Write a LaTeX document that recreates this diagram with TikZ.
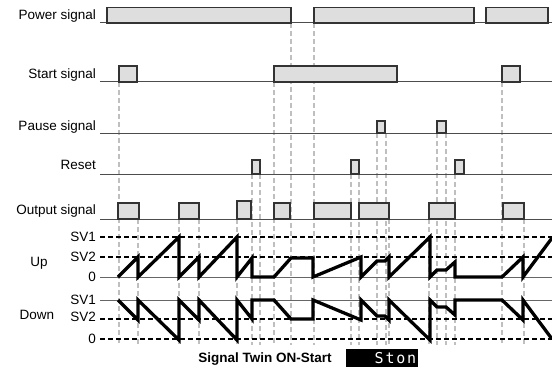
\documentclass[tikz,border=0pt]{standalone}
\usepackage{fontspec}
\setmainfont{Liberation Sans}
\newfontfamily\lcdfont[LetterSpace=12]{DejaVu Sans Mono}
\def\upwave{(118,277) -- (138,257) -- (138,277) -- (179,237) -- (179,277) -- (199,257) -- (199,277) -- (237,237) -- (237,277) -- (252,258) -- (252,277) -- (274,277) -- (291,258) -- (313,258) -- (313,277) -- (361,257) -- (361,277) -- (377,261) -- (385,261) -- (389,257) -- (389,277) -- (430,237) -- (430,277) -- (437,270) -- (446,270) -- (455,262) -- (455,277) -- (502,277) -- (523,257) -- (523,277) -- (552,238)}
\begin{document}
\begin{tikzpicture}[x=1pt,y=-1pt,
    lbl/.style={anchor=base east,inner sep=0pt,font=\fontsize{13.5}{15}\selectfont},
    lvl/.style={anchor=east,inner sep=0pt,font=\fontsize{13.5}{15}\selectfont},
    sig/.style={draw=black!70,line width=1pt},
    pulse/.style={draw=black!80,fill=black!13,line width=1.2pt},
    guide/.style={draw=black!25,line width=1.1pt,dash pattern=on 5pt off 3pt},
    level/.style={draw=black,line width=1.2pt,dash pattern=on 5pt off 3pt},
    wave/.style={draw=black,line width=3.3pt,miter limit=20}]
  \useasboundingbox (0,0) rectangle (552,369);
  \foreach \x in {291,314} \draw[guide] (\x,23) -- (\x,345);
  \foreach \x in {119,274,502} \draw[guide] (\x,82) -- (\x,345);
  \foreach \x in {377,386,437,446} \draw[guide] (\x,133) -- (\x,345);
  \foreach \x in {252,260,351,359,455} \draw[guide] (\x,174) -- (\x,345);
  \foreach \x in {138,179,199,237,389,429,524} \draw[guide] (\x,219) -- (\x,345);
  \node[lbl] (power) at (96,19.5) {Power signal};
  \node[lbl] (start) at (96,79) {Start signal};
  \node[lbl] (pause) at (96,130.5) {Pause signal};
  \node[lbl] (reset) at (96,169.5) {Reset};
  \node[lbl] (output) at (96,214) {Output signal};
  \draw[sig] (100,23) -- (552,23);
  \draw[sig] (100,82) -- (552,82);
  \draw[sig] (100,133) -- (552,133);
  \draw[sig] (100,174) -- (552,174);
  \draw[sig] (100,219) -- (552,219);
  \foreach \a/\b in {107/291,314/474,486/548} \draw[pulse] (\a,23) rectangle (\b,7.5);
  \foreach \a/\b in {119/137,274/397,502/520} \draw[pulse] (\a,82) rectangle (\b,66);
  \foreach \a/\b in {377/385,437/446} \draw[pulse] (\a,133) rectangle (\b,121);
  \foreach \a/\b in {252/260,351/359,455/464} \draw[pulse] (\a,174) rectangle (\b,160);
  \foreach \a/\b/\t in {118/139/203,179/199/203,237/251/201,274/290/203,314/351/203,359/389/203,429/455/203,503/524/203} \draw[pulse] (\a,219) rectangle (\b,\t);
  \node[lvl] (upsv1) at (96,237) {SV1};
  \node[lvl] (upsv2) at (96,257) {SV2};
  \node[lvl] (upzero) at (96,277) {0};
  \node[lvl] (downsv1) at (96,300) {SV1};
  \node[lvl] (downsv2) at (96,317) {SV2};
  \node[lvl] (downzero) at (96,339) {0};
  \node[inner sep=0pt,font=\fontsize{13.5}{15}\selectfont] (up) at (39,263) {Up};
  \node[inner sep=0pt,font=\fontsize{13.5}{15}\selectfont] (down) at (37,315) {Down};
  \draw[level] (100,237) -- (552,237);
  \draw[level] (100,257) -- (552,257);
  \draw[sig,draw=black!60] (100,277) -- (552,277);
  \draw[sig,draw=black!60] (100,300) -- (552,300);
  \draw[level] (100,319) -- (552,319);
  \draw[level] (100,339) -- (552,339);
  \draw[wave] \upwave;
  \begin{scope}[shift={(0,577)},yscale=-1]
    \draw[wave] \upwave;
  \end{scope}
  \node[anchor=base,inner sep=0pt,font=\bfseries\fontsize{13.5}{15}\selectfont] (title) at (265,362) {Signal Twin ON-Start};
  \node[anchor=north west,fill=black,minimum width=72pt,minimum height=18pt,inner sep=0pt,
    text width=68pt,align=right,text=white,font=\lcdfont\fontsize{15}{15}\selectfont] (ston) at (346,349) {Ston};
\end{tikzpicture}
\end{document}
